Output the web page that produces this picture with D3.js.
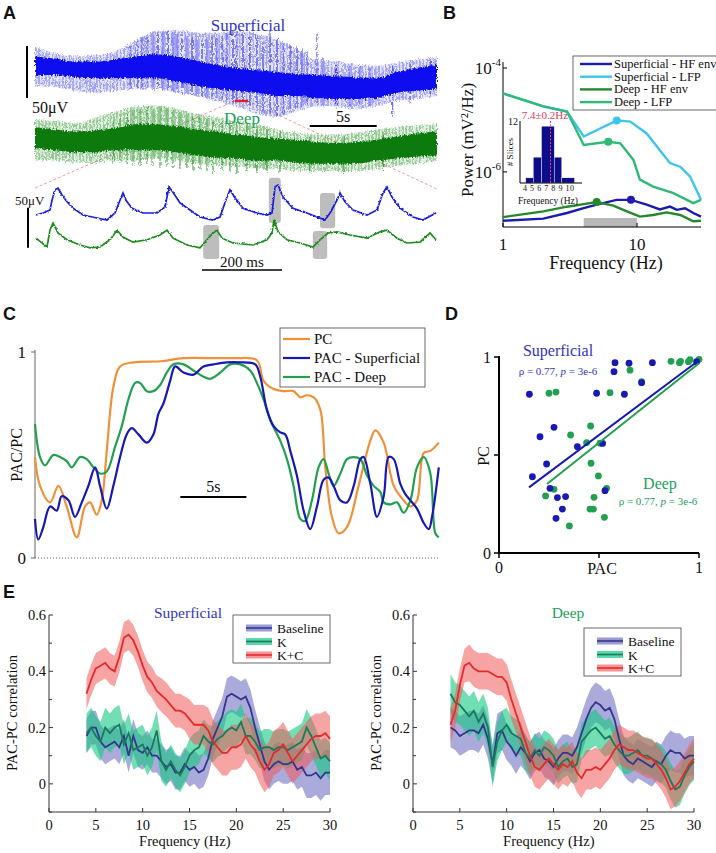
<!DOCTYPE html>
<html><head><meta charset="utf-8">
<script src="https://cdn.jsdelivr.net/npm/d3@7"></script>
<style>body{margin:0;background:#fff}</style></head>
<body><svg id="fig" width="716" height="853"></svg>
<script>
// ================= DATA =================
// Panel A – raw traces (time in s, amplitude envelopes in µV relative to trace baseline)
const traceT = [0,1.5,3,4.5,6,7.5,9,10.5,12,13.5,15,16.5,18,19.5,21,22.5,24,25.5,27,28.5,30];
const supCoreTop  = [15,13,10,10,12,15,17,15,11,7,4,2,0,-2,-3,-4,-5,-6,0,4,7];
const supCoreBot  = [-3,-3,-5,-6,-6,-6,-6,-9,-13,-16,-18,-20,-23,-23,-25,-26,-26,-25,-20,-18,-16];
const supOuterTop = [24,18,15,16,20,30,39,40,38,37,40,37,32,22,12,10,7,6,9,12,14];
const supOuterBot = [-13,-15,-18,-20,-18,-16,-15,-20,-23,-28,-33,-40,-43,-38,-33,-33,-36,-33,-28,-26,-23];
const deepCoreTop  = [17,15,13,14,16,20,20,18,15,13,10,8,6,5,3,2,3,5,8,11,13];
const deepCoreBot  = [-3,-5,-7,-7,-5,-5,-5,-7,-10,-12,-13,-15,-15,-17,-18,-18,-18,-15,-13,-11,-10];
const deepOuterTop = [25,23,21,26,32,37,38,35,30,27,23,20,15,12,10,10,12,15,17,19,20];
const deepOuterBot = [-15,-15,-17,-17,-15,-15,-13,-15,-18,-20,-20,-23,-23,-25,-25,-25,-25,-23,-20,-18,-15];
// spikes: [time s, top µV, bottom µV]
const supSpikes = [[7.09,24,-16],[7.61,29,-16],[7.99,35,-17],[8.36,34,-16],[8.81,37,-17],[9.18,38,-16],[9.55,40,-18],[9.93,40,-17],[10.3,39,-19],[10.6,37,-18],[10.97,35,-20],[11.34,34,-21],[11.72,34,-22],[12.09,32,-22],[12.46,30,-24],[12.84,32,-25],[13.21,34,-24],[13.58,32,-26],[13.96,35,-27],[14.33,37,-28],[14.78,37,-30],[15.07,40,-28],[15.52,37,-30],[16.04,34,-32],[16.57,35,-35],[17.01,27,-38],[17.54,40,-40],[18.06,32,-43],[18.51,29,-40],[19.03,27,-37],[19.55,24,-35],[19.93,22,-33],[20.3,20,-31],[21.04,37,-30],[21.49,14,-32],[22.5,8,-35],[23.5,6,-33],[24.25,5,-31],[25.0,4,-33],[26.7,5,-43],[28.0,8,-30],[29.5,12,-22]];
const deepSpikes = [[5.82,23,-18],[6.34,27,-17],[6.87,30,-18],[7.31,33,-19],[7.84,35,-20],[8.36,37,-18],[8.81,35,-20],[9.33,37,-22],[9.85,35,-21],[10.3,33,-22],[10.82,32,-23],[11.34,30,-22],[11.79,28,-24],[12.31,27,-23],[12.84,25,-25],[13.28,23,-27],[13.96,22,-25],[14.55,20,-26],[15.07,23,-27],[15.82,20,-26],[16.57,17,-27],[17.31,15,-27],[18.28,13,-26],[20.5,8,-27],[23.0,8,-27],[26.0,12,-25]];
const zoomWindow = [14.9, 15.9]; // s (red mark)
// Panel A – 1 s zoomed traces (ms, µV)
const zoomSupT = [0,17.5,35,40,47.5,55,65,77.5,92.5,117.5,152.5,177.5,197.5,210,217.5,225,240,267.5,302.5,322.5,332.5,342.5,360,385,410,442.5,460,477.5,485,497.5,517.5,552.5,577.5,590,597.5,605,617.5,642.5,677.5,702.5,722.5,735,752.5,760,772.5,792.5,827.5,852.5,867.5,877.5,890,910,942.5,967.5,1000];
const zoomSupV = [2.5,5,8.75,21,34,36,27.5,19,11,2.5,-1.25,-3.75,5,21,30,21,11,5,5,12.5,37.5,31,17.5,8.75,0,-3.75,0,25,34,24,11,5,2.5,5,37.5,40,25,11,5,0,-3.75,5,21,30,19,8.75,2.5,8.75,30,37.5,25,11,0,-3.75,5];
const zoomDeepT = [0,27.5,35,42.5,55,77.5,110,135,160,185,202.5,217.5,242.5,277.5,310,327.5,342.5,377.5,410,427.5,442.5,452.5,465,492.5,542.5,577.5,590,595,605,627.5,660,692.5,710,730,752.5,785,827.5,860,877.5,902.5,927.5,960,985,1000];
const zoomDeepV = [6,-5,16,25,12.5,4,-2.5,-6,-5,4,16,7.5,1,4,10,16,6,-2.5,-6,4,12.5,16,6,0,-2.5,4,12.5,29,14,4,0,-5,4,12.5,14,10,6,14,16,6,0,1,12.5,4];
// gray boxes: [t0 ms, t1 ms, top µV, bottom µV, trace]
const zoomBoxes = [[582,612,49,-7.5,"sup"],[710,748,30,-14,"sup"],[418,458,22.5,-20,"deep"],[692,728,15,-20,"deep"]];

// Panel B – power spectra (Hz, mV²/Hz)
const bSupHFf = [1,2,3,4,5,7.05,9,11.8,14.8,17.6,19.8,22.8,26.3,30];
const bSupHFp = [1.15e-7,1.26e-7,1.62e-7,2.0e-7,2.35e-7,2.9e-7,2.9e-7,2.35e-7,1.9e-7,2.15e-7,1.86e-7,2.0e-7,1.62e-7,1.38e-7];
const bSupLFPf = [1,2,3,4,7.05,8.9,11.8,14.8,17.6,21,24.9,30];
const bSupLFPp = [3.24e-5,1.82e-5,1.45e-5,4.8e-6,9.8e-6,9.3e-6,5.5e-6,2.6e-6,1.48e-6,1.26e-6,8.1e-7,2.9e-7];
const bDeepHFf = [1,2,3,4,5,6.65,8.4,10.5,13.2,16.6,21,26.3,30];
const bDeepHFp = [1.35e-7,1.74e-7,2.14e-7,2.4e-7,2.63e-7,2.24e-7,1.74e-7,1.38e-7,1.48e-7,1.66e-7,1.48e-7,1.12e-7,1.15e-7];
const bDeepLFPf = [1,2,3,4,6.1,7.5,9.4,10.5,13.2,18.7,26.3,30];
const bDeepLFPp = [3.24e-5,1.82e-5,1.45e-5,3.3e-6,3.8e-6,3.55e-6,1.7e-6,7.1e-7,5.2e-7,3.9e-7,2.5e-7,2.9e-7];
const bPeaks = [[9,2.9e-7,"supHF"],[7.05,9.8e-6,"supLFP"],[5,2.63e-7,"deepHF"],[6.1,3.8e-6,"deepLFP"]];
const bLegend = ["Superficial - HF env","Superficial - LFP","Deep - HF env","Deep - LFP"];
const thetaBand = [4,10];
// inset histogram
const histEdges = [4.1,5.1,6.2,7.9,8.9,10.6];
const histCounts = [1,5,11,5,1];
const histTicks = [4,5,6,7,8,9,10];
const peakMean = 7.4;

// Panel C – PAC/PC time courses (s, normalised)
const pcT = [0,0.38,1.14,1.77,2.4,3.16,3.79,4.17,4.67,5.05,5.43,5.93,6.44,7.45,9.47,11.24,13.76,15.03,16.79,17.3,18.06,18.81,19.57,20.08,20.58,21.09,21.59,21.97,22.47,22.98,23.61,24.49,25.38,25.76,26.39,27.15,27.9,28.41,28.91,29.42,29.92,30.56];
const pcV = [0.49,0.35,0.27,0.35,0.25,0.10,0.25,0.27,0.21,0.28,0.52,0.83,0.93,0.95,0.955,0.97,0.97,0.97,0.96,0.86,0.82,0.81,0.81,0.78,0.79,0.78,0.72,0.44,0.20,0.12,0.15,0.35,0.57,0.62,0.56,0.35,0.28,0.25,0.28,0.51,0.52,0.56];
const pacSupT = [0,0.25,0.63,1.14,1.64,2.02,2.53,3.03,3.54,4.04,4.55,4.92,5.43,5.93,6.44,6.94,7.32,7.83,8.46,8.96,9.34,9.72,10.23,10.61,11.24,11.99,12.75,13.51,14.52,15.53,16.67,17.05,17.55,18.06,18.56,18.94,19.32,19.82,20.33,20.83,21.34,21.84,22.22,22.6,23.11,23.61,24.12,24.62,24.87,25.38,25.88,26.39,26.77,27.15,27.65,28.03,28.41,28.91,29.42,29.8,30.05,30.56];
const pacSupV = [0.19,0.09,0.15,0.25,0.23,0.30,0.28,0.20,0.27,0.35,0.44,0.35,0.24,0.35,0.49,0.60,0.63,0.60,0.56,0.60,0.70,0.75,0.86,0.93,0.90,0.89,0.93,0.94,0.95,0.95,0.94,0.88,0.72,0.64,0.61,0.60,0.52,0.40,0.23,0.14,0.25,0.38,0.39,0.35,0.28,0.27,0.35,0.48,0.49,0.36,0.20,0.30,0.49,0.48,0.36,0.31,0.28,0.24,0.17,0.14,0.20,0.44];
const pacDeepT = [0,0.38,0.76,1.39,1.89,2.4,2.78,3.41,3.91,4.42,4.92,5.43,6.06,6.57,7.07,7.58,7.95,8.46,8.96,9.47,9.97,10.48,11.24,11.99,12.75,13.26,14.02,14.77,15.53,16.29,16.79,17.3,17.8,18.56,19.07,19.57,20.08,20.45,20.96,21.46,21.84,22.22,22.6,23.11,23.61,24.12,24.62,25.13,25.63,26.14,26.39,26.89,27.4,27.9,28.41,28.91,29.42,29.92,30.3,30.56];
const pacDeepV = [0.65,0.49,0.45,0.50,0.49,0.47,0.44,0.49,0.48,0.44,0.41,0.42,0.54,0.64,0.77,0.85,0.85,0.81,0.81,0.84,0.90,0.94,0.94,0.91,0.88,0.87,0.90,0.94,0.94,0.91,0.85,0.77,0.67,0.57,0.48,0.35,0.19,0.18,0.28,0.44,0.48,0.41,0.35,0.41,0.48,0.49,0.48,0.40,0.35,0.32,0.27,0.26,0.27,0.22,0.28,0.44,0.49,0.41,0.12,0.10];
const cLegend = ["PC","PAC - Superficial","PAC - Deep"];

// Panel D – PC vs PAC scatter
const dSupPAC = [0.152,0.205,0.167,0.238,0.275,0.255,0.292,0.333,0.317,0.285,0.392,0.488,0.518,0.53,0.58,0.575,0.65,0.767,0.627,0.713,0.988];
const dSupPC  = [0.81,0.593,0.389,0.454,0.641,0.33,0.283,0.288,0.224,0.177,0.542,0.815,0.559,0.318,0.971,0.925,0.968,0.971,0.81,0.869,0.976];
const dDeepPAC = [0.25,0.285,0.358,0.233,0.275,0.352,0.458,0.438,0.46,0.505,0.497,0.538,0.475,0.455,0.472,0.527,0.555,0.655,0.713,0.86,0.908,0.955,1.0,0.947,0.902];
const dDeepPC  = [0.815,0.821,0.602,0.291,0.325,0.138,0.648,0.563,0.458,0.56,0.393,0.33,0.284,0.224,0.224,0.182,0.818,0.933,0.874,0.978,0.978,0.986,0.988,0.976,0.971];
const dSupFit = [[0.15,0.335],[0.99,0.976]];
const dDeepFit = [[0.24,0.352],[1.0,0.968]];

// Panel E – PAC-PC correlation vs frequency (mean ± sem)
const eFreq = [4,4.5,5,5.5,6,6.5,7,7.5,8,8.5,9,9.5,10,10.5,11,11.5,12,12.5,13,13.5,14,14.5,15,15.5,16,16.5,17,17.5,18,18.5,19,19.5,20,20.5,21,21.5,22,22.5,23,23.5,24,24.5,25,25.5,26,26.5,27,27.5,28,28.5,29,29.5,30];
const eSupBase = [0.17,0.20,0.20,0.15,0.13,0.14,0.15,0.13,0.17,0.10,0.17,0.12,0.11,0.13,0.10,0.10,0.08,0.06,0.07,0.04,0.04,0.07,0.05,0.06,0.04,0.05,0.09,0.16,0.20,0.24,0.31,0.32,0.31,0.30,0.31,0.27,0.20,0.14,0.08,0.05,0.07,0.08,0.07,0.07,0.08,0.05,0.06,0.03,0.03,0.04,0.02,0.04,0.04];
const eSupBaseSem = [0.06,0.06,0.06,0.06,0.06,0.06,0.06,0.06,0.06,0.06,0.06,0.06,0.06,0.06,0.06,0.06,0.06,0.06,0.06,0.06,0.06,0.06,0.06,0.06,0.06,0.06,0.06,0.065,0.065,0.065,0.065,0.065,0.065,0.065,0.065,0.065,0.065,0.065,0.07,0.07,0.07,0.07,0.07,0.07,0.07,0.07,0.07,0.08,0.08,0.08,0.08,0.08,0.08];
const eSupK = [0.18,0.20,0.17,0.15,0.20,0.18,0.20,0.21,0.14,0.18,0.12,0.13,0.14,0.10,0.13,0.19,0.08,0.05,0.08,0.05,0.03,0.06,0.10,0.12,0.13,0.17,0.15,0.14,0.16,0.17,0.19,0.20,0.19,0.22,0.17,0.17,0.15,0.12,0.13,0.13,0.12,0.13,0.13,0.12,0.13,0.14,0.15,0.20,0.17,0.13,0.09,0.10,0.08];
const eSupKSem = [0.07,0.07,0.07,0.07,0.07,0.07,0.07,0.07,0.07,0.07,0.07,0.07,0.07,0.07,0.07,0.07,0.07,0.06,0.06,0.06,0.06,0.06,0.06,0.06,0.06,0.06,0.06,0.065,0.065,0.065,0.065,0.065,0.065,0.065,0.065,0.065,0.065,0.065,0.065,0.065,0.065,0.065,0.065,0.065,0.065,0.065,0.065,0.065,0.065,0.065,0.065,0.065,0.065];
const eSupKC = [0.32,0.37,0.41,0.42,0.43,0.41,0.40,0.45,0.52,0.53,0.51,0.47,0.42,0.38,0.36,0.33,0.315,0.30,0.28,0.26,0.26,0.25,0.23,0.21,0.21,0.21,0.19,0.15,0.13,0.11,0.11,0.13,0.13,0.14,0.17,0.14,0.12,0.08,0.05,0.07,0.11,0.12,0.14,0.11,0.08,0.10,0.12,0.14,0.16,0.17,0.17,0.18,0.16];
const eSupKCSem = [0.055,0.055,0.055,0.055,0.055,0.055,0.055,0.055,0.055,0.055,0.055,0.055,0.055,0.055,0.055,0.055,0.06,0.06,0.06,0.06,0.06,0.06,0.07,0.07,0.07,0.07,0.08,0.08,0.08,0.08,0.08,0.08,0.08,0.08,0.08,0.08,0.08,0.08,0.08,0.08,0.08,0.08,0.08,0.08,0.08,0.08,0.08,0.08,0.08,0.08,0.08,0.08,0.08];
const eDeepBase = [0.20,0.19,0.17,0.18,0.19,0.19,0.18,0.21,0.16,0.07,0.18,0.19,0.15,0.13,0.10,0.13,0.11,0.08,0.11,0.12,0.09,0.08,0.06,0.09,0.11,0.11,0.10,0.13,0.18,0.23,0.27,0.29,0.28,0.26,0.27,0.23,0.16,0.10,0.08,0.07,0.09,0.08,0.07,0.06,0.08,0.07,0.10,0.12,0.11,0.11,0.09,0.10,0.10];
const eDeepBaseSem = [0.07,0.07,0.07,0.07,0.07,0.07,0.07,0.07,0.07,0.07,0.07,0.07,0.065,0.065,0.065,0.065,0.065,0.065,0.065,0.065,0.065,0.065,0.065,0.065,0.065,0.065,0.065,0.07,0.07,0.07,0.07,0.07,0.07,0.07,0.07,0.07,0.07,0.07,0.07,0.07,0.07,0.07,0.07,0.07,0.07,0.07,0.07,0.07,0.07,0.07,0.07,0.07,0.07];
const eDeepK = [0.32,0.29,0.28,0.26,0.24,0.26,0.22,0.25,0.20,0.06,0.15,0.19,0.21,0.18,0.17,0.16,0.11,0.09,0.12,0.10,0.13,0.12,0.10,0.06,0.08,0.09,0.06,0.07,0.15,0.17,0.19,0.20,0.18,0.16,0.17,0.14,0.12,0.10,0.10,0.11,0.12,0.10,0.10,0.09,0.08,0.07,0.05,0.01,-0.02,-0.01,0.03,0.06,0.08];
const eDeepKSem = [0.07,0.07,0.07,0.07,0.07,0.07,0.07,0.07,0.07,0.07,0.07,0.07,0.06,0.06,0.06,0.06,0.06,0.06,0.06,0.06,0.06,0.06,0.06,0.06,0.06,0.06,0.06,0.065,0.065,0.065,0.065,0.065,0.065,0.065,0.065,0.065,0.065,0.065,0.065,0.065,0.065,0.065,0.065,0.065,0.065,0.065,0.065,0.065,0.065,0.065,0.065,0.065,0.065];
const eDeepKC = [0.21,0.26,0.35,0.42,0.43,0.41,0.40,0.40,0.40,0.39,0.38,0.38,0.36,0.30,0.25,0.20,0.15,0.10,0.06,0.05,0.07,0.09,0.07,0.05,0.07,0.06,0.08,0.04,0.02,0.05,0.05,0.06,0.05,0.07,0.09,0.12,0.14,0.13,0.12,0.12,0.11,0.10,0.09,0.09,0.07,0.05,0.02,-0.02,-0.01,0.01,0.04,0.07,0.09];
const eDeepKCSem = [0.06,0.06,0.06,0.06,0.065,0.065,0.065,0.065,0.065,0.065,0.065,0.065,0.065,0.07,0.07,0.07,0.07,0.07,0.07,0.07,0.07,0.07,0.07,0.07,0.07,0.07,0.07,0.07,0.07,0.07,0.07,0.07,0.07,0.07,0.07,0.07,0.07,0.07,0.07,0.07,0.07,0.07,0.07,0.07,0.07,0.07,0.07,0.07,0.07,0.07,0.07,0.07,0.07];
const eLegend = ["Baseline","K","K+C"];
const eYTicks = [0,0.2,0.4,0.6];
const eYMinor = [-0.1,0.1,0.3,0.5];
const eXTicks = [0,5,10,15,20,25,30];

// ================= DRAWING =================
const SERIF = "'Liberation Serif','Times New Roman',serif";
const SANS = "'Liberation Sans',Arial,sans-serif";
const svg = d3.select("#fig");
const C = {
  supTrace:"#1010f0", supTraceL:"#4848ec", deepTrace:"#0f7a10", deepTraceL:"#2e942e",
  supTxt:"#3434c4", deepTxt:"#22a05c",
  bSupHF:"#1c1cb0", bSupLFP:"#3ec6ea", bDeepHF:"#24882c", bDeepLFP:"#2fba78",
  pc:"#f0913a", pacSup:"#1818b4", pacDeep:"#22a050",
  base:"#36368e", baseBand:"rgb(100,100,190)", k:"#1c7a5c", kBand:"rgb(20,200,130)", kc:"#e62a2a", kcBand:"rgb(240,90,90)"
};
const defs = svg.append("defs");
function hatch(id,color,w){
  const p = defs.append("pattern").attr("id",id).attr("patternUnits","userSpaceOnUse").attr("width",w).attr("height",8);
  p.append("rect").attr("width",w).attr("height",8).attr("fill",color).attr("opacity",0.12);
  p.append("line").attr("x1",w/2).attr("x2",w/2).attr("y1",0).attr("y2",8).attr("stroke",color).attr("stroke-width",0.8);
}
hatch("hSup",C.supTraceL,3.4); hatch("hDeep",C.deepTraceL,3.4);
function rough(id,bf,scale){
  const f = defs.append("filter").attr("id",id).attr("x","-2%").attr("y","-30%").attr("width","104%").attr("height","160%");
  f.append("feTurbulence").attr("type","fractalNoise").attr("baseFrequency",bf).attr("numOctaves",2).attr("seed",4).attr("result","n");
  f.append("feDisplacementMap").attr("in","SourceGraphic").attr("in2","n").attr("scale",scale).attr("xChannelSelector","R").attr("yChannelSelector","G");
}
rough("rTrace","0.9 0.35",5); rough("rZoom","0.5 0.5",2.6);

function text(x,y,s,o={}){
  const t = svg.append("text").attr("x",x).attr("y",y).text(s)
    .attr("font-family",o.font||SERIF)
    .attr("font-size",o.size||14).attr("fill",o.fill||"#111")
    .attr("text-anchor",o.anchor||"start");
  if(o.bold) t.attr("font-weight","bold");
  if(o.rot) t.attr("transform",`rotate(${o.rot},${x},${y})`);
  return t;
}
[["A",3,19],["B",443,19],["C",3,320],["D",445,320],["E",3,598]].forEach(l=>text(l[1],l[2],l[0],{size:18,font:SANS,bold:true}));

// ---------- Panel A ----------
(function(){
  const x = d3.scaleLinear().domain([0,30]).range([35,437]);
  const ySup = d3.scaleLinear().domain([-50,50]).range([72+52,72-52]);
  const yDeep = d3.scaleLinear().domain([-50,50]).range([145+52,145-52]);
  const g = svg.append("g");
  const xz0 = x(zoomWindow[0]), xz1 = x(zoomWindow[1]);
  g.append("line").attr("x1",35).attr("y1",188).attr("x2",xz0).attr("y2",101).attr("stroke","#e8a0a0").attr("stroke-dasharray","3,2").attr("stroke-width",1);
  g.append("line").attr("x1",xz1).attr("y1",101).attr("x2",437).attr("y2",189).attr("stroke","#e8a0a0").attr("stroke-dasharray","3,2").attr("stroke-width",1);
  function trace(y, ct, cb, ot, ob, spikes, hatchId, colL, col){
    const gt = g.append("g").attr("filter","url(#rTrace)");
    const d = traceT.map((t,i)=>({t,ct:ct[i],cb:cb[i],ot:ot[i],ob:ob[i]}));
    gt.append("path").datum(d).attr("fill",`url(#${hatchId})`)
      .attr("d",d3.area().x(p=>x(p.t)).y0(p=>y(p.ob)).y1(p=>y(p.ot)).curve(d3.curveMonotoneX));
    gt.selectAll(null).data(spikes).enter().append("line")
      .attr("x1",s=>x(s[0])).attr("x2",s=>x(s[0])).attr("y1",s=>y(s[1])).attr("y2",s=>y(s[2]))
      .attr("stroke",colL).attr("stroke-width",1);
    gt.append("path").datum(d).attr("fill",col)
      .attr("d",d3.area().x(p=>x(p.t)).y0(p=>y(p.cb)).y1(p=>y(p.ct)).curve(d3.curveMonotoneX));
  }
  trace(ySup, supCoreTop, supCoreBot, supOuterTop, supOuterBot, supSpikes, "hSup", C.supTraceL, C.supTrace);
  trace(yDeep, deepCoreTop, deepCoreBot, deepOuterTop, deepOuterBot, deepSpikes, "hDeep", C.deepTraceL, C.deepTrace);
  g.append("line").attr("x1",xz0).attr("x2",xz1).attr("y1",101).attr("y2",101).attr("stroke","#e02020").attr("stroke-width",2.5);
  text(248,31,"Superficial",{size:17,fill:C.supTxt,anchor:"middle"});
  text(242,124,"Deep",{size:17,fill:C.deepTxt,anchor:"middle"});
  g.append("line").attr("x1",27).attr("x2",27).attr("y1",ySup(25)).attr("y2",ySup(-25)).attr("stroke","#000").attr("stroke-width",2);
  text(32,113,"50μV",{size:16});
  g.append("line").attr("x1",x(20.5)).attr("x2",x(25.5)).attr("y1",126).attr("y2",126).attr("stroke","#000").attr("stroke-width",2);
  text(x(23),122,"5s",{size:16,anchor:"middle"});

  const xz = d3.scaleLinear().domain([0,1000]).range([36,436]);
  const yzs = d3.scaleLinear().domain([0,50]).range([217,177]);
  const yzd = d3.scaleLinear().domain([0,50]).range([243,203]);
  g.selectAll(null).data(zoomBoxes).enter().append("rect")
    .attr("x",b=>xz(b[0])).attr("width",b=>xz(b[1])-xz(b[0]))
    .attr("y",b=>(b[4]==="sup"?yzs:yzd)(b[2]))
    .attr("height",b=>{const y=(b[4]==="sup"?yzs:yzd);return y(b[3])-y(b[2]);})
    .attr("rx",3).attr("fill","#bdbdbd");
  const gz = g.append("g").attr("filter","url(#rZoom)");
  gz.append("path").datum(zoomSupT.map((t,i)=>[t,zoomSupV[i]])).attr("fill","none").attr("stroke","#1a1ae0").attr("stroke-width",1.7)
    .attr("d",d3.line().x(p=>xz(p[0])).y(p=>yzs(p[1])));
  gz.append("path").datum(zoomDeepT.map((t,i)=>[t,zoomDeepV[i]])).attr("fill","none").attr("stroke","#1c8c1c").attr("stroke-width",1.7)
    .attr("d",d3.line().x(p=>xz(p[0])).y(p=>yzd(p[1])));
  g.append("line").attr("x1",28).attr("x2",28).attr("y1",yzd(-6)).attr("y2",yzd(44)).attr("stroke","#000").attr("stroke-width",2);
  text(15,205,"50μV",{size:13});
  g.append("line").attr("x1",xz(415)).attr("x2",xz(615)).attr("y1",270).attr("y2",270).attr("stroke","#000").attr("stroke-width",1.5);
  text(xz(515),267,"200 ms",{size:15,anchor:"middle"});
})();

// ---------- Panel B ----------
(function(){
  const x = d3.scaleLog().domain([1,30]).range([503,701]);
  const y = d3.scaleLog().domain([8.7e-8,1e-4]).range([227,68]);
  const g = svg.append("g");
  g.append("rect").attr("x",x(thetaBand[0])).attr("width",x(thetaBand[1])-x(thetaBand[0])).attr("y",218).attr("height",9).attr("fill","#b8b8b8");
  g.append("line").attr("x1",503).attr("x2",503).attr("y1",62).attr("y2",227).attr("stroke","#000").attr("stroke-width",1);
  g.append("line").attr("x1",503).attr("x2",701).attr("y1",227).attr("y2",227).attr("stroke","#000").attr("stroke-width",1);
  [1e-4,1e-6].forEach(v=>{
    g.append("line").attr("x1",503).attr("x2",507).attr("y1",y(v)).attr("y2",y(v)).attr("stroke","#000");
    const t = text(501,y(v)+6,"10",{size:17,anchor:"end"});
    t.append("tspan").attr("dy",-8).attr("font-size",11).text(v===1e-4?"-4":"-6");
  });
  [1,10].forEach(v=>{
    g.append("line").attr("x1",x(v)).attr("x2",x(v)).attr("y1",227).attr("y2",223).attr("stroke","#000");
    text(x(v),250,String(v),{size:17,anchor:"middle"});
  });
  text(473,140,"Power (mV²/Hz)",{size:17,anchor:"middle",rot:-90});
  text(606,269,"Frequency (Hz)",{size:18,anchor:"middle"});
  const line = d3.line().x(p=>x(p[0])).y(p=>y(p[1]));
  const curves = [[bSupHFf,bSupHFp,C.bSupHF],[bSupLFPf,bSupLFPp,C.bSupLFP],[bDeepHFf,bDeepHFp,C.bDeepHF],[bDeepLFPf,bDeepLFPp,C.bDeepLFP]];
  curves.forEach(c=>{
    g.append("path").datum(c[0].map((f,i)=>[f,c[1][i]])).attr("fill","none").attr("stroke",c[2]).attr("stroke-width",2.4).attr("d",line);
  });
  const pc = {supHF:C.bSupHF,supLFP:C.bSupLFP,deepHF:C.bDeepHF,deepLFP:C.bDeepLFP};
  g.selectAll(null).data(bPeaks).enter().append("circle").attr("cx",p=>x(p[0])).attr("cy",p=>y(p[1])).attr("r",4).attr("fill",p=>pc[p[2]]);
  g.append("rect").attr("x",573).attr("y",56).attr("width",150).attr("height",54).attr("fill","#fff").attr("stroke","#444").attr("stroke-width",0.8);
  [C.bSupHF,C.bSupLFP,C.bDeepHF,C.bDeepLFP].forEach((c,i)=>{
    const yy = 64+i*12.7;
    g.append("line").attr("x1",580).attr("x2",612).attr("y1",yy).attr("y2",yy).attr("stroke",c).attr("stroke-width",2.4);
    text(614,yy+4,bLegend[i],{size:12.5});
  });
  // inset histogram
  const xi = d3.scaleLinear().domain([4,10]).range([525,570]);
  const yi = d3.scaleLinear().domain([0,12]).range([183,121]);
  g.selectAll(null).data(histCounts).enter().append("rect")
    .attr("x",(c,i)=>xi(histEdges[i])).attr("width",(c,i)=>xi(histEdges[i+1])-xi(histEdges[i]))
    .attr("y",c=>yi(c)).attr("height",c=>yi(0)-yi(c)).attr("fill","#0d0d8a").attr("stroke","#fff").attr("stroke-width",0.4);
  g.append("line").attr("x1",520).attr("x2",520).attr("y1",121).attr("y2",183).attr("stroke","#000");
  g.append("line").attr("x1",520).attr("x2",582).attr("y1",183).attr("y2",183).attr("stroke","#000");
  g.append("line").attr("x1",xi(peakMean)).attr("x2",xi(peakMean)).attr("y1",121).attr("y2",183).attr("stroke","#e0407a").attr("stroke-width",1).attr("stroke-dasharray","2,1.5");
  text(518,125,"12",{size:10,anchor:"end"});
  text(513,152,"# Slices",{size:9,anchor:"middle",rot:-90});
  const tl = text(xi(histTicks[0])-2,190.5,histTicks.join(" "),{size:8});
  tl.attr("textLength",xi(histTicks[histTicks.length-1])-xi(histTicks[0])+6).attr("lengthAdjust","spacing");
  text(548,204,"Frequency (Hz)",{size:9.5,anchor:"middle"});
  text(545,119,"7.4±0.2Hz",{size:11,anchor:"middle",fill:"#d84060"});
})();

// ---------- Panel C ----------
(function(){
  const x = d3.scaleLinear().domain([0,30.5]).range([35,438]);
  const y = d3.scaleLinear().domain([0,1]).range([558,352]);
  const g = svg.append("g");
  g.append("line").attr("x1",35).attr("x2",35).attr("y1",350).attr("y2",558).attr("stroke","#666").attr("stroke-width",1);
  g.append("line").attr("x1",35).attr("x2",438).attr("y1",558).attr("y2",558).attr("stroke","#666").attr("stroke-width",1).attr("stroke-dasharray","1,2");
  [0,1].forEach(v=>{
    g.append("line").attr("x1",31).attr("x2",35).attr("y1",y(v)).attr("y2",y(v)).attr("stroke","#666");
    text(26,y(v)+6,String(v),{size:17,anchor:"end"});
  });
  text(22,455,"PAC/PC",{size:16,anchor:"middle",rot:-90});
  const line = d3.line().x(p=>x(p[0])).y(p=>y(p[1])).curve(d3.curveCatmullRom.alpha(0.5));
  [[pcT,pcV,C.pc],[pacDeepT,pacDeepV,C.pacDeep],[pacSupT,pacSupV,C.pacSup]].forEach(s=>{
    g.append("path").datum(s[0].map((t,i)=>[t,s[1][i]])).attr("fill","none").attr("stroke",s[2]).attr("stroke-width",2.2).attr("d",line);
  });
  g.append("line").attr("x1",x(11)).attr("x2",x(16)).attr("y1",497).attr("y2",497).attr("stroke","#000").attr("stroke-width",2);
  text(x(13.5),492,"5s",{size:16,anchor:"middle"});
  g.append("rect").attr("x",280).attr("y",328).attr("width",145).attr("height",59).attr("fill","#fff").attr("stroke","#444").attr("stroke-width",0.8);
  [C.pc,C.pacSup,C.pacDeep].forEach((c,i)=>{
    const yy = 339+i*19;
    g.append("line").attr("x1",283).attr("x2",310).attr("y1",yy).attr("y2",yy).attr("stroke",c).attr("stroke-width",2.2);
    text(314,yy+5,cLegend[i],{size:15});
  });
})();

// ---------- Panel D ----------
(function(){
  const x = d3.scaleLinear().domain([0,1]).range([499,699]);
  const y = d3.scaleLinear().domain([0,1]).range([553,357]);
  const g = svg.append("g");
  g.append("line").attr("x1",499).attr("x2",499).attr("y1",356).attr("y2",554).attr("stroke","#000").attr("stroke-width",2);
  g.append("line").attr("x1",498).attr("x2",699).attr("y1",553).attr("y2",553).attr("stroke","#000").attr("stroke-width",2);
  [0,0.5,1].forEach(v=>{
    g.append("line").attr("x1",494).attr("x2",499).attr("y1",y(v)).attr("y2",y(v)).attr("stroke","#000").attr("stroke-width",1.5);
    g.append("line").attr("x1",x(v)).attr("x2",x(v)).attr("y1",553).attr("y2",558).attr("stroke","#000").attr("stroke-width",1.5);
  });
  [0,1].forEach(v=>{
    text(491,y(v)+6,String(v),{size:16,anchor:"end"});
    text(x(v),573,String(v),{size:16,anchor:"middle"});
  });
  text(489,456,"PC",{size:16,anchor:"middle",rot:-90});
  text(602,574,"PAC",{size:16,anchor:"middle"});
  const fit = (f,c)=>g.append("line").attr("x1",x(f[0][0])).attr("y1",y(f[0][1])).attr("x2",x(f[1][0])).attr("y2",y(f[1][1])).attr("stroke",c).attr("stroke-width",2);
  g.selectAll(null).data(dDeepPAC.map((p,i)=>[p,dDeepPC[i]])).enter().append("circle").attr("cx",p=>x(p[0])).attr("cy",p=>y(p[1])).attr("r",3.4).attr("fill",C.pacDeep);
  g.selectAll(null).data(dSupPAC.map((p,i)=>[p,dSupPC[i]])).enter().append("circle").attr("cx",p=>x(p[0])).attr("cy",p=>y(p[1])).attr("r",3.4).attr("fill",C.pacSup);
  fit(dSupFit,C.pacSup); fit(dDeepFit,C.pacDeep);
  text(558,356,"Superficial",{size:16,anchor:"middle",fill:C.supTxt});
  const r1 = text(558,375,"ρ = 0.77, ",{size:11,anchor:"middle",fill:C.supTxt});
  r1.append("tspan").attr("font-style","italic").text("p"); r1.append("tspan").text(" = 3e-6");
  text(660,489,"Deep",{size:16,anchor:"middle",fill:C.deepTxt});
  const r2 = text(658,505,"ρ = 0.77, ",{size:11,anchor:"middle",fill:C.deepTxt});
  r2.append("tspan").attr("font-style","italic").text("p"); r2.append("tspan").text(" = 3e-6");
})();

// ---------- Panel E ----------
function panelE(x0, title, titleCol, titleX, base, baseS, k, kS, kc, kcS, leg){
  const x = d3.scaleLinear().domain([0,30]).range([x0,x0+281]);
  const y = d3.scaleLinear().domain([-0.1,0.6]).range([812,615]);
  const g = svg.append("g");
  const area = d3.area().x(p=>x(p.f)).y0(p=>y(p.m-p.s)).y1(p=>y(p.m+p.s));
  const line = d3.line().x(p=>x(p.f)).y(p=>y(p.m));
  const ser = [[base,baseS,C.baseBand,C.base,0.55],[k,kS,C.kBand,C.k,0.6],[kc,kcS,C.kcBand,C.kc,0.55]];
  ser.forEach(s=>{
    g.append("path").datum(eFreq.map((f,i)=>({f,m:s[0][i],s:s[1][i]}))).attr("fill",s[2]).attr("opacity",s[4]).attr("d",area);
  });
  ser.forEach(s=>{
    g.append("path").datum(eFreq.map((f,i)=>({f,m:s[0][i]}))).attr("fill","none").attr("stroke",s[3]).attr("stroke-width",1.8).attr("d",line);
  });
  g.append("line").attr("x1",x0).attr("x2",x0).attr("y1",615).attr("y2",812).attr("stroke","#333");
  g.append("line").attr("x1",x0).attr("x2",x0+281).attr("y1",812).attr("y2",812).attr("stroke","#333");
  eYTicks.forEach(v=>{
    g.append("line").attr("x1",x0).attr("x2",x0+4).attr("y1",y(v)).attr("y2",y(v)).attr("stroke","#333");
    text(x0-3,y(v)+5,v===0?"0":v.toFixed(1),{size:14.5,anchor:"end"});
  });
  eYMinor.forEach(v=>g.append("line").attr("x1",x0).attr("x2",x0+3).attr("y1",y(v)).attr("y2",y(v)).attr("stroke","#333"));
  eXTicks.forEach(v=>{
    g.append("line").attr("x1",x(v)).attr("x2",x(v)).attr("y1",812).attr("y2",808).attr("stroke","#333");
    text(x(v),830,String(v),{size:14.5,anchor:"middle"});
  });
  text(x0-32,713,"PAC-PC correlation",{size:14.5,anchor:"middle",rot:-90});
  text(x(14.5),846,"Frequency (Hz)",{size:14.5,anchor:"middle"});
  text(titleX,618,title,{size:15.5,anchor:"middle",fill:titleCol});
  g.append("rect").attr("x",leg[0]).attr("y",leg[1]).attr("width",97).attr("height",48).attr("fill","#fff").attr("stroke","#444").attr("stroke-width",0.8);
  ser.forEach((s,i)=>{
    const yy = leg[1]+13+i*13.5;
    g.append("rect").attr("x",leg[0]+13).attr("y",yy-3.5).attr("width",26).attr("height",7).attr("fill",s[2]).attr("opacity",s[4]+0.1);
    g.append("line").attr("x1",leg[0]+13).attr("x2",leg[0]+39).attr("y1",yy).attr("y2",yy).attr("stroke",s[3]).attr("stroke-width",1.6);
    text(leg[0]+44,yy+5,eLegend[i],{size:13.5});
  });
}
panelE(49,"Superficial",C.supTxt,188,eSupBase,eSupBaseSem,eSupK,eSupKSem,eSupKC,eSupKCSem,[233,615]);
panelE(413,"Deep",C.deepTxt,568,eDeepBase,eDeepBaseSem,eDeepK,eDeepKSem,eDeepKC,eDeepKCSem,[584,628]);
</script></body></html>
